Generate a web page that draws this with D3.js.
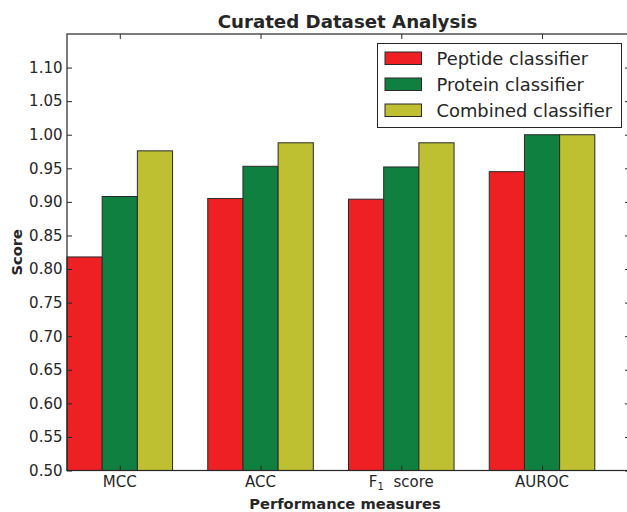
<!DOCTYPE html>
<html><head><meta charset="utf-8">
<script src="https://cdn.jsdelivr.net/npm/d3@7"></script>
<style>body{margin:0;background:#fff;} svg{display:block;font-family:"DejaVu Sans",sans-serif;}</style>
</head><body>
<svg id="c" width="627" height="512"></svg>
<script>
const categories = ["MCC", "ACC", "F1 score", "AUROC"];
const seriesNames = ["Peptide classifier", "Protein classifier", "Combined classifier"];
const peptide = [0.818, 0.905, 0.904, 0.945];
const protein = [0.908, 0.953, 0.952, 1.000];
const combined = [0.976, 0.988, 0.988, 1.000];
const seriesValues = [peptide, protein, combined];
const colors = ["#ee2024", "#0f8040", "#bfbf32"];
const yTicks = [0.50,0.55,0.60,0.65,0.70,0.75,0.80,0.85,0.90,0.95,1.00,1.05,1.10];

const svg = d3.select("#c");
const m = {left: 67, top: 34, right: 630, bottom: 470.5};
const ink = "#262626";
const fs = 15;

const x = d3.scaleLinear().domain([0, 4]).range([m.left, m.right]);
const y = d3.scaleLinear().domain([0.5, 1.15]).range([m.bottom, m.top]);
const barW = 0.25;

const g = svg.append("g");
seriesValues.forEach((vals, s) => {
  g.selectAll(null).data(vals).enter().append("rect")
    .attr("x", (d, i) => x(i + s * barW))
    .attr("width", (d, i) => x(i + (s + 1) * barW) - x(i + s * barW))
    .attr("y", d => y(d))
    .attr("height", d => y(0.5) - y(d))
    .attr("fill", colors[s])
    .attr("stroke", "#2a2a2a").attr("stroke-width", 1);
});

g.append("rect").attr("x", m.left).attr("y", m.top)
  .attr("width", m.right - m.left).attr("height", m.bottom - m.top)
  .attr("fill", "none").attr("stroke", ink).attr("stroke-width", 1.2);

const catPos = categories.map((c, i) => i + 0.375);
const fmt = d3.format(".2f");
const yAxis = d3.axisLeft(y).tickValues(yTicks).tickFormat(fmt).tickSizeInner(-5).tickSizeOuter(0).tickPadding(4.5);
const ya = svg.append("g").attr("transform", `translate(${m.left},0)`).call(yAxis);
ya.select(".domain").remove();
ya.selectAll("text").attr("font-size", fs).attr("fill", ink).attr("font-family", "DejaVu Sans");
ya.selectAll("line").attr("stroke", ink);

const yAxisR = d3.axisRight(y).tickValues(yTicks).tickFormat("").tickSizeInner(-5).tickSizeOuter(0);
const yr = svg.append("g").attr("transform", `translate(${m.right},0)`).call(yAxisR);
yr.select(".domain").remove();
yr.selectAll("line").attr("stroke", ink);

const xAxis = d3.axisBottom(x).tickValues(catPos).tickFormat("").tickSizeInner(-5).tickSizeOuter(0);
const xa = svg.append("g").attr("transform", `translate(0,${m.bottom})`).call(xAxis);
xa.select(".domain").remove();
xa.selectAll("line").attr("stroke", ink);
const xAxisT = d3.axisTop(x).tickValues(catPos).tickFormat("").tickSizeInner(-5).tickSizeOuter(0);
const xt = svg.append("g").attr("transform", `translate(0,${m.top})`).call(xAxisT);
xt.select(".domain").remove();
xt.selectAll("line").attr("stroke", ink);

categories.forEach((c, i) => {
  const t = svg.append("text").attr("x", x(catPos[i])).attr("y", 487)
    .attr("text-anchor", "middle").attr("font-size", fs).attr("fill", ink);
  if (c === "F1 score") {
    t.append("tspan").text("F");
    t.append("tspan").text("1").attr("font-size", 10).attr("dy", 3);
    t.append("tspan").text("\u00a0\u00a0score").attr("dy", -3);
  } else t.text(c);
});

svg.append("text").attr("x", (m.left + m.right) / 2 - 1).attr("y", 28)
  .attr("text-anchor", "middle").attr("font-weight", "bold").attr("font-size", 18.2).attr("fill", ink)
  .text("Curated Dataset Analysis");
svg.append("text").attr("x", 345).attr("y", 508.5)
  .attr("text-anchor", "middle").attr("font-weight", "bold").attr("font-size", 14.7).attr("fill", ink)
  .text("Performance measures");
svg.append("text").attr("transform", `translate(22,${(m.top + m.bottom) / 2}) rotate(-90)`)
  .attr("text-anchor", "middle").attr("font-weight", "bold").attr("font-size", 14.7).attr("fill", ink)
  .text("Score");

const lg = svg.append("g");
lg.append("rect").attr("x", 377.5).attr("y", 43.5).attr("width", 244).attr("height", 84)
  .attr("fill", "#fff").attr("stroke", ink).attr("stroke-width", 1);
seriesNames.forEach((n, i) => {
  const yy = 52 + i * 26;
  lg.append("rect").attr("x", 385).attr("y", yy).attr("width", 36.5).attr("height", 12.5)
    .attr("fill", colors[i]).attr("stroke", "#2a2a2a").attr("stroke-width", 1);
  lg.append("text").attr("x", 436.5).attr("y", yy + 12.8).attr("font-size", 17.9).attr("fill", ink).text(n);
});
</script>
</body></html>
